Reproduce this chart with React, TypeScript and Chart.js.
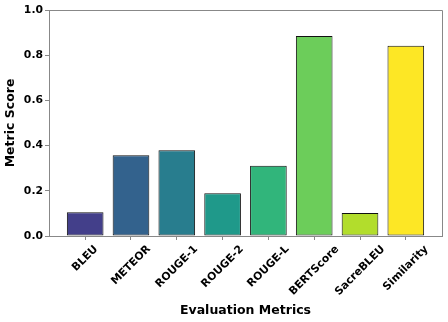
import React, { useEffect, useRef } from "react";
import { Chart, registerables } from "chart.js";

Chart.register(...registerables);

const categories = ["BLEU", "METEOR", "ROUGE-1", "ROUGE-2", "ROUGE-L", "BERTScore", "SacreBLEU", "Similarity"];
const scores = [0.105, 0.357, 0.379, 0.189, 0.311, 0.885, 0.102, 0.842];
const barColors = ["#433f8a", "#33628d", "#287d8e", "#1f998a", "#31b57b", "#6ccd5a", "#b2dd2c", "#fde725"];
const yTicks = [0, 0.2, 0.4, 0.6, 0.8, 1.0];

const SPINE = "#888888";
const TICK_FONT = 10.8;

const framePlugin = {
  id: "frame",
  afterDraw(chart: any) {
    const { ctx, chartArea } = chart;
    ctx.save();
    ctx.strokeStyle = SPINE;
    ctx.lineWidth = 1;
    ctx.beginPath();
    ctx.moveTo(Math.round(chartArea.left) + 0.5, Math.round(chartArea.top) + 0.5);
    ctx.lineTo(Math.round(chartArea.right) + 0.5, Math.round(chartArea.top) + 0.5);
    ctx.lineTo(Math.round(chartArea.right) + 0.5, Math.round(chartArea.bottom) + 0.5);
    ctx.stroke();
    // rotated x tick labels, centred under each tick (matplotlib ha='center')
    const xs = chart.scales.x;
    ctx.fillStyle = "#000";
    ctx.font = `bold ${TICK_FONT}px "DejaVu Sans"`;
    const h = TICK_FONT * 1.17;
    const top = chartArea.bottom + 7;
    categories.forEach((label, i) => {
      const px = xs.getPixelForValue(i);
      const w = ctx.measureText(label).width;
      const W = (w + h) * Math.SQRT1_2;
      ctx.save();
      ctx.translate(px, top + W / 2);
      ctx.rotate(-Math.PI / 4);
      ctx.textAlign = "center";
      ctx.textBaseline = "middle";
      ctx.fillText(label, 0, 0);
      ctx.restore();
    });
    ctx.restore();
  },
};

export default function App() {
  const ref = useRef<HTMLCanvasElement>(null);
  useEffect(() => {
    if (!ref.current) return;
    Chart.defaults.font.family = '"DejaVu Sans"';
    const chart = new Chart(ref.current, {
      type: "bar",
      data: {
        datasets: [
          {
            data: scores.map((v, i) => ({ x: i, y: v })),
            backgroundColor: barColors,
            borderColor: "#111111",
            borderWidth: 1,
            borderSkipped: false,
            categoryPercentage: 0.8,
            barPercentage: 1.0,
          },
        ],
      },
      options: {
        animation: false,
        responsive: true,
        maintainAspectRatio: false,
        layout: { padding: { top: 10, right: 6, left: 0, bottom: 0 } },
        plugins: { legend: { display: false }, tooltip: { enabled: false } },
        scales: {
          x: {
            type: "linear",
            offset: false,
            min: -0.79,
            max: 7.79,
            afterBuildTicks: (scale: any) => {
              scale.ticks = categories.map((_, i) => ({ value: i }));
            },
            afterFit: (scale: any) => {
              scale.height = 86;
            },
            ticks: { display: false },
            grid: { offset: false, drawOnChartArea: false, drawTicks: true, tickLength: 4, color: SPINE },
            border: { color: SPINE, width: 1 },
            title: {
              display: true,
              text: "Evaluation Metrics",
              font: { size: 12.5, weight: "bold" },
              color: "#000",
              padding: { top: 0, bottom: 4 },
            },
          },
          y: {
            min: 0,
            max: 1,
            afterBuildTicks: (scale: any) => {
              scale.ticks = yTicks.map((v) => ({ value: v }));
            },
            afterFit: (scale: any) => {
              scale.width = 49;
            },
            ticks: {
              callback: (v: any) => Number(v).toFixed(1),
              font: { size: TICK_FONT, weight: "bold" },
              color: "#000",
              padding: 2,
            },
            grid: { drawOnChartArea: false, drawTicks: true, tickLength: 4, color: SPINE },
            border: { color: SPINE, width: 1 },
            title: {
              display: true,
              text: "Metric Score",
              font: { size: 12.5, weight: "bold" },
              color: "#000",
              padding: { top: 3, bottom: 0 },
            },
          },
        },
      },
      plugins: [framePlugin],
    });
    return () => chart.destroy();
  }, []);
  return (
    <div style={{ position: "fixed", left: 0, top: 0, width: 448, height: 322 }}>
      <canvas ref={ref} />
    </div>
  );
}
